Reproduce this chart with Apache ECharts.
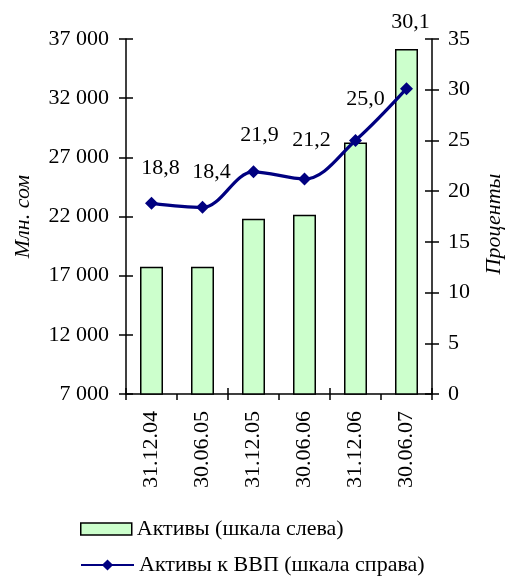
<!DOCTYPE html>
<html><head><meta charset="utf-8">
<script src="https://cdn.jsdelivr.net/npm/echarts@6/dist/echarts.min.js"></script>
<style>html,body{margin:0;padding:0;background:#fff}#c{width:510px;height:576px}</style>
</head><body><div id="c"></div>
<script>
const categories = ['31.12.04','30.06.05','31.12.05','30.06.06','31.12.06','30.06.07'];
const assets = [17750, 17750, 21800, 22150, 28250, 36150];
const assetsToGdp = [18.8, 18.4, 21.9, 21.2, 25.0, 30.1];
const leftTicks = {min: 7000, max: 37000, interval: 5000};
const rightTicks = {min: 0, max: 35, interval: 5};
const seriesNames = ['Активы (шкала слева)', 'Активы к ВВП (шкала справа)'];
const axisNames = ['Млн. сом', 'Проценты'];

const labelShift = [[9,-35],[9,-35],[6,-37],[7,-39],[10,-41],[4,-66]];
const FONT = 'Liberation Serif';
const FS = 22;
const chart = echarts.init(document.getElementById('c'), null, {renderer:'canvas'});
const black = '#000';
const tickStyle = {color: black, width: 1.5};
const legendText = {fontFamily: FONT, fontSize: FS, color: black};
chart.setOption({
  animation: false,
  grid: {left: 126, right: 78, top: 39, bottom: 182, outerBoundsMode: 'none', containLabel: false},
  graphic: [
    {type: 'text', x: 494, y: 224, rotation: Math.PI / 2,
     style: {text: axisNames[1], fontFamily: FONT, fontSize: FS, fontStyle: 'italic', fill: black,
             align: 'center', verticalAlign: 'middle'}}
  ],
  legend: [
    {left: 76, top: 516, itemWidth: 51, itemHeight: 12, itemGap: 0, padding: [2,4], textStyle: legendText,
     data: [{name: seriesNames[0], icon: 'rect', itemStyle: {color: '#ccffcc', borderColor: black, borderWidth: 1.5}}]},
    {left: 76, top: 552, itemWidth: 53, itemHeight: 14, itemGap: 0, padding: [2,4], textStyle: legendText,
     data: [{name: seriesNames[1]}]}
  ],
  xAxis: [
    {type: 'category', data: categories, position: 'bottom',
     axisLine: {onZero: false, lineStyle: tickStyle},
     axisTick: {show: true, length: 6, lineStyle: tickStyle},
     axisLabel: {rotate: 90, margin: 17, fontFamily: FONT, fontSize: FS, color: black}},
    {type: 'category', data: categories, position: 'bottom',
     axisLine: {show: false}, axisTick: {show: true, inside: true, length: 6, lineStyle: tickStyle},
     axisLabel: {show: false}}
  ],
  yAxis: [
    {type: 'value', position: 'left', min: leftTicks.min, max: leftTicks.max, interval: leftTicks.interval,
     name: axisNames[0], nameLocation: 'middle', nameRotate: 90, nameGap: 92,
     nameTextStyle: {fontFamily: FONT, fontSize: FS, fontStyle: 'italic', color: black},
     axisLine: {show: true, onZero: false, lineStyle: tickStyle},
     axisTick: {show: true, length: 7, lineStyle: tickStyle},
     splitLine: {show: false},
     axisLabel: {margin: 17, fontFamily: FONT, fontSize: FS, color: black,
       formatter: v => (v/1000) + ' 000'}},
    {type: 'value', position: 'right', min: rightTicks.min, max: rightTicks.max, interval: rightTicks.interval,
     axisLine: {show: true, onZero: false, lineStyle: tickStyle},
     axisTick: {show: true, length: 7, lineStyle: tickStyle},
     splitLine: {show: false},
     axisLabel: {margin: 16, fontFamily: FONT, fontSize: FS, color: black}},
    {type: 'value', position: 'left', min: leftTicks.min, max: leftTicks.max, interval: leftTicks.interval,
     axisLine: {show: false}, axisTick: {show: true, inside: true, length: 7, lineStyle: tickStyle},
     axisLabel: {show: false}, splitLine: {show: false}},
    {type: 'value', position: 'right', min: rightTicks.min, max: rightTicks.max, interval: rightTicks.interval,
     axisLine: {show: false}, axisTick: {show: true, inside: true, length: 7, lineStyle: tickStyle},
     axisLabel: {show: false}, splitLine: {show: false}}
  ],
  series: [
    {name: seriesNames[0], type: 'bar', xAxisIndex: 0, yAxisIndex: 0, data: assets, barWidth: 23,
     itemStyle: {color: '#ccffcc', borderColor: black, borderWidth: 1.5}},
    {name: seriesNames[1], type: 'line', xAxisIndex: 0, yAxisIndex: 1, smooth: 0.35,
     symbol: 'diamond', symbolSize: 13,
     lineStyle: {color: '#000080', width: 3.2}, itemStyle: {color: '#000080'},
     data: assetsToGdp.map((v, i) => ({value: v,
       label: {show: true, position: 'inside', offset: labelShift[i],
         fontFamily: FONT, fontSize: FS, color: black,
         formatter: p => p.value.toFixed(1).replace('.', ',')}}))}
  ]
});
</script></body></html>
